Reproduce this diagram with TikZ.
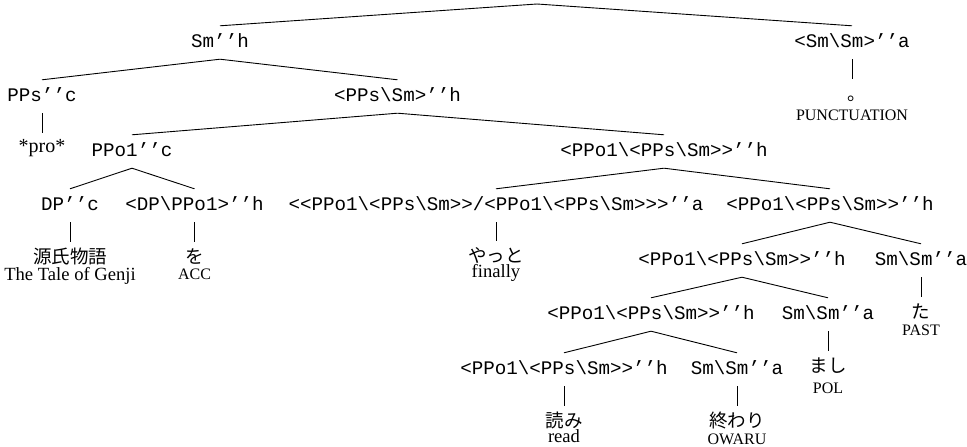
\documentclass[tikz,border=0pt]{standalone}
\usepackage{fontspec}
\setmainfont{Liberation Serif}
\setmonofont{Liberation Mono}
\newfontfamily\jpfont{Noto Sans CJK JP}
\newcommand\bsl{\textbackslash}
\begin{document}
\begin{tikzpicture}[x=1pt,y=-1pt,
  cat/.style={font=\ttfamily\fontsize{19.2}{20}\selectfont, inner sep=0pt, anchor=base, text height=21pt, text depth=12pt},
  jp/.style={font=\jpfont\fontsize{18.5}{20}\selectfont, inner sep=0pt, anchor=base, text height=21pt, text depth=0pt},
  lat/.style={font=\fontsize{18.6}{20}\selectfont, inner sep=0pt, anchor=base},
  capgloss/.style={font=\fontsize{16}{18}\selectfont, inner sep=0pt, anchor=base},
  branch/.style={line width=0.9pt, black}]
\path[use as bounding box, fill=white] (0,0) rectangle (967,447);
% top
\coordinate (root) at (537,4);
\node[cat] (smh) at (220,47) {Sm’’h};
\node[cat] (smsma) at (852,47) {<Sm\bsl Sm>’’a};
\node[jp] (maru) at (852,100) {。\kern-.5em};
\node[capgloss] (punct) at (852,120) {PUNCTUATION};
% level 2
\node[cat] (ppsc) at (42,101) {PPs’’c};
\node[cat] (ppssm) at (397.5,101) {<PPs\bsl Sm>’’h};
\node[lat, font=\fontsize{20}{22}\selectfont, text height=19pt] (pro) at (42,152) {*pro*};
% level 3
\node[cat] (ppo1c) at (132,156) {PPo1’’c};
\node[cat] (ppo1h) at (664,156) {<PPo1\bsl<PPs\bsl Sm>>’’h};
% level 4
\node[cat] (dpc) at (70,210) {DP’’c};
\node[cat] (dpppo) at (194.5,210) {<DP\bsl PPo1>’’h};
\node[cat] (adv) at (496,210) {<<PPo1\bsl<PPs\bsl Sm>>/<PPo1\bsl<PPs\bsl Sm>>>’’a};
\node[cat] (v4) at (830,210) {<PPo1\bsl<PPs\bsl Sm>>’’h};
\node[jp] (genji) at (70,263) {源氏物語};
\node[lat] (genjig) at (70,280) {The Tale of Genji};
\node[jp] (wo) at (194.5,263) {を};
\node[capgloss] (acc) at (194.5,279) {ACC};
\node[jp] (yatto) at (496,262) {やっと};
\node[lat] (finally) at (496,277) {finally};
% level 5
\node[cat] (v5) at (742,265) {<PPo1\bsl<PPs\bsl Sm>>’’h};
\node[cat] (ta) at (921,265) {Sm\bsl Sm’’a};
\node[jp] (taj) at (921,318) {た};
\node[capgloss] (past) at (921,335) {PAST};
% level 6
\node[cat] (v6) at (651,319) {<PPo1\bsl<PPs\bsl Sm>>’’h};
\node[cat] (mash) at (828,319) {Sm\bsl Sm’’a};
\node[jp] (mashi) at (828,372) {まし};
\node[capgloss] (pol) at (828,393) {POL};
% level 7
\node[cat] (v7) at (564,374) {<PPo1\bsl<PPs\bsl Sm>>’’h};
\node[cat] (owa) at (737,374) {Sm\bsl Sm’’a};
\node[jp] (yomi) at (564,427) {読み};
\node[lat] (read) at (564,442) {read};
\node[jp] (owari) at (737,427) {終わり};
\node[capgloss] (owaru) at (737,444) {OWARU};
% branches
\draw[branch] (root) -- (smh.north);
\draw[branch] (root) -- (smsma.north);
\foreach \a/\b in {smh/ppsc, smh/ppssm, ppsc/pro, smsma/maru,
  ppssm/ppo1c, ppssm/ppo1h, ppo1c/dpc, ppo1c/dpppo, dpc/genji, dpppo/wo,
  ppo1h/adv, ppo1h/v4, adv/yatto, v4/v5, v4/ta, ta/taj,
  v5/v6, v5/mash, mash/mashi, v6/v7, v6/owa, v7/yomi, owa/owari}
  \draw[branch] (\a.south) -- (\b.north);
\end{tikzpicture}
\end{document}
